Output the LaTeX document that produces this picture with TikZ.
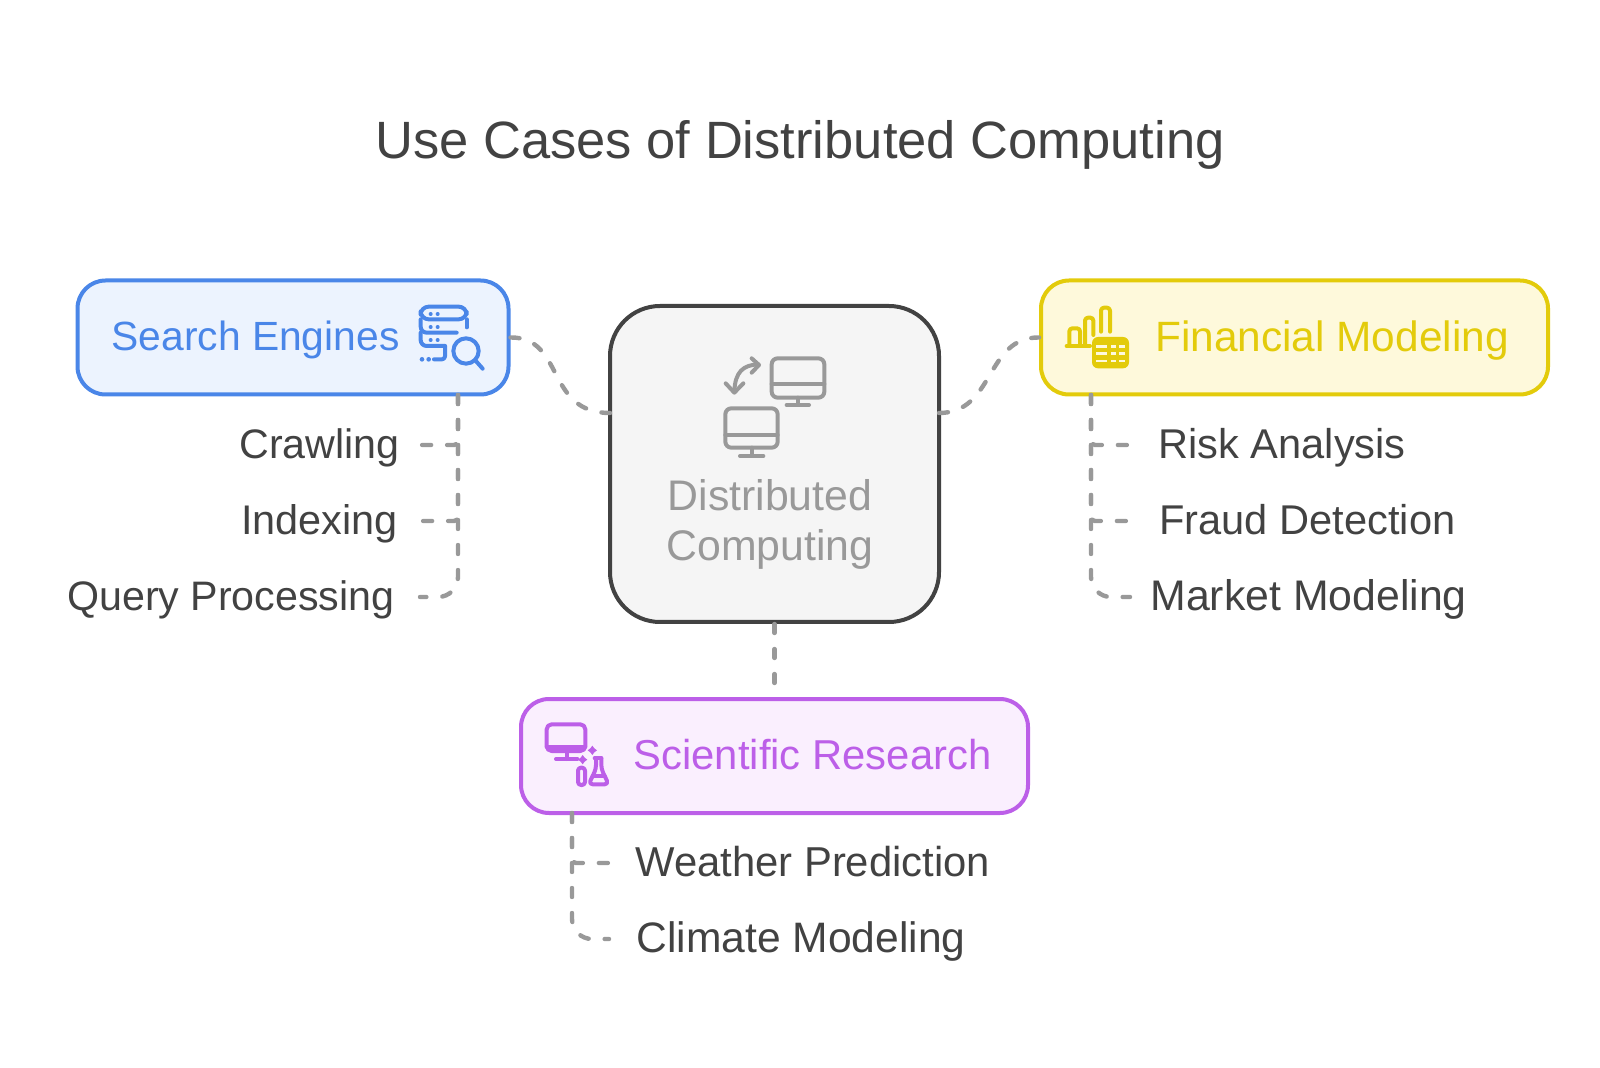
\documentclass[tikz,border=0pt]{standalone}
\usepackage{fontspec}
\setmainfont{Liberation Sans}
\usepackage{xcolor}
\definecolor{ink}{HTML}{424242}
\definecolor{mute}{HTML}{999999}
\definecolor{bluedge}{HTML}{4A86E8}
\definecolor{bluefill}{HTML}{ECF3FE}
\definecolor{goldedge}{HTML}{E3CB0B}
\definecolor{goldfill}{HTML}{FEF9DB}
\definecolor{plumedge}{HTML}{BC5FE8}
\definecolor{plumfill}{HTML}{FAEFFE}
\tikzset{%
    topic/.style={draw,line width=2pt,rounded corners=14pt,minimum width=215.5pt,minimum height=57pt},
    topictext/.style={text height=17.5pt,text depth=4pt},
    leaf/.style={text=ink,font=\fontsize{#1}{24}\selectfont,text height=17.5pt,text depth=4pt,inner ysep=0pt},
    leaf/.default=20.8,
    link/.style={draw=mute,line width=2.2pt,line cap=round,dash pattern=on 4.5pt off 8pt},
    glyph/.style={line width=2pt,line cap=round,line join=round,rounded corners=1.5pt}
}
\begin{document}
\begin{tikzpicture}[x=0.5pt,y=-0.5pt]
\useasboundingbox (0,0) rectangle (1600,1068);
\node[text=ink,font=\fontsize{26.25}{30}\selectfont] (title) at (800,145) {Use Cases of Distributed Computing};
%boxes
\node[topic,draw=bluedge,fill=bluefill] (search) at (293,337.5) {};
\node[topic,draw=goldedge,fill=goldfill,minimum width=253.5pt] (finance) at (1294.5,337.5) {};
\node[topic,draw=plumedge,fill=plumfill,minimum width=253.5pt] (science) at (774.5,756) {};
\node[draw=ink,fill=black!4,line width=2pt,rounded corners=25pt,minimum width=164.5pt,minimum height=158pt] (core) at (774.5,464) {};
\node[topictext,text=bluedge,font=\fontsize{20.4}{24}\selectfont] (searchtext) at (255.5,337.5) {Search Engines};
\node[topictext,text=goldedge,font=\fontsize{21.2}{24}\selectfont] (financetext) at (1332,338) {Financial Modeling};
\node[topictext,text=plumedge,font=\fontsize{20.9}{24}\selectfont] (sciencetext) at (812.5,756) {Scientific Research};
\node[text=mute,font=\fontsize{21.4}{25}\selectfont,align=center] (coretext) at (770,524) {Distributed\\Computing};
%leaves
\node[leaf=20.6,anchor=east,inner xsep=10pt] (crawl) at (420,445) {Crawling};
\node[leaf=20.7,anchor=east,inner xsep=11pt] (index) at (420,521) {Indexing};
\node[leaf=20.6,anchor=east,inner xsep=12.5pt] (query) at (420,597) {Query Processing};
\node[leaf,anchor=west,inner xsep=14pt] (risk) at (1130,445) {Risk Analysis};
\node[leaf,anchor=west,inner xsep=14.5pt] (fraud) at (1130,521) {Fraud Detection};
\node[leaf=21.4,anchor=west,inner xsep=10pt] (market) at (1130,597) {Market Modeling};
\node[leaf=20.9,anchor=west,inner xsep=13pt] (weather) at (609,863) {Weather Prediction};
\node[leaf=21.3,anchor=west,inner xsep=13.5pt] (climate) at (609,939) {Climate Modeling};
%connectors
\coordinate (searchdrop) at (458,395);
\coordinate (financedrop) at (1091,395);
\coordinate (sciencedrop) at (572,813);
\coordinate (coreleft) at (610,413);
\coordinate (coreright) at (939,413);
\draw[link] (search.east) .. controls (565,337) and (545,413) .. (coreleft);
\draw[link] (coreright) .. controls (995,413) and (985,337) .. (finance.west);
\draw[link] (core.south) -- (science.north);
\draw[link,rounded corners=2pt] (searchdrop) |- (crawl.east);
\draw[link,rounded corners=2pt] (searchdrop) |- (index.east);
\draw[link,rounded corners=10pt] (searchdrop) |- (query.east);
\draw[link,rounded corners=2pt] (financedrop) |- (risk.west);
\draw[link,rounded corners=2pt] (financedrop) |- (fraud.west);
\draw[link,rounded corners=10pt] (financedrop) |- (market.west);
\draw[link,rounded corners=2pt] (sciencedrop) |- (weather.west);
\draw[link,rounded corners=10pt] (sciencedrop) |- (climate.west);
%search icon
\begin{scope}[shift={(390,280)},scale=1/3,glyph,draw=bluedge]
	\draw[rounded corners=4pt] (92,118) -- (92,80) -- (230,80) -- (230,118) -- (92,118) -- cycle;
	\draw[rounded corners=3pt] (92,118) -- (92,158) -- (200,158);
	\draw (230,118) -- (230,142);
	\draw[rounded corners=3pt] (92,158) -- (92,198) -- (165,198);
	\draw (165,198) -- (165,238) -- (132,238);
	\foreach \dy in {102,141,180} {
		\fill[bluedge] (122,\dy) circle (6);
		\fill[bluedge] (143,\dy) circle (6);
	}
	\fill[bluedge] (96,238) circle (7);
	\fill[bluedge] (116,238) circle (7);
	\draw (228,213) circle (38);
	\draw (255,240) -- (278,266);
\end{scope}
%core icon
\begin{scope}[shift={(690,330)},scale=1/3,glyph,draw=mute]
	\draw[rounded corners=3pt] (245,85) rectangle (403,203);
	\draw (245,162) -- (403,162);
	\draw (323,203) -- (323,225) (290,225) -- (357,225);
	\draw[rounded corners=3pt] (106,235) rectangle (263,353);
	\draw (106,315) -- (263,315);
	\draw (185,353) -- (185,378) (150,378) -- (220,378);
	\draw (133,185) .. controls (135,125) and (160,105) .. (205,103);
	\draw[sharp corners] (107,160) -- (133,188) -- (160,160);
	\draw[sharp corners] (185,85) -- (207,105) -- (185,128);
\end{scope}
%finance icon
\begin{scope}[shift={(1030,285)},scale=1/3,glyph,draw=goldedge]
	\draw (110,183) -- (180,183);
	\draw (118,183) -- (118,130) -- (150,130) -- (150,183);
	\draw (165,183) -- (165,98) -- (190,98) -- (190,150);
	\draw (213,140) -- (213,68) -- (240,68) -- (240,140);
	\fill[goldedge,rounded corners=3pt] (186,156) rectangle (297,250);
	\foreach \ry in {184,206,228} {
		\fill[goldfill,sharp corners] (198,\ry-4) rectangle (232,\ry+4);
		\fill[goldfill,sharp corners] (243,\ry-4) rectangle (258,\ry+4);
		\fill[goldfill,sharp corners] (268,\ry-4) rectangle (285,\ry+4);
	}
\end{scope}
%science icon
\begin{scope}[shift={(540,715)},scale=1/3,glyph,draw=plumedge]
	\draw[rounded corners=2.5pt] (20,28) rectangle (136,108);
	\draw (20,96) -- (136,96);
	\draw (80,108) -- (80,132) (48,132) -- (112,132);
	\fill[plumedge,sharp corners] (157,92) -- (163,100) -- (171,106) -- (163,112) -- (157,120) -- (151,112) -- (143,106) -- (151,100) -- cycle;
	\fill[plumedge,sharp corners] (128,120) -- (134,128) -- (142,134) -- (134,140) -- (128,148) -- (122,140) -- (114,134) -- (122,128) -- cycle;
	\draw (114,158) rectangle (135,210);
	\draw (164,130) -- (184,130);
	\draw[rounded corners=2pt] (168,130) -- (168,162) -- (146,208) -- (206,208) -- (184,162) -- (184,130);
	\draw (158,184) -- (194,184);
\end{scope}
\end{tikzpicture}
\end{document}
